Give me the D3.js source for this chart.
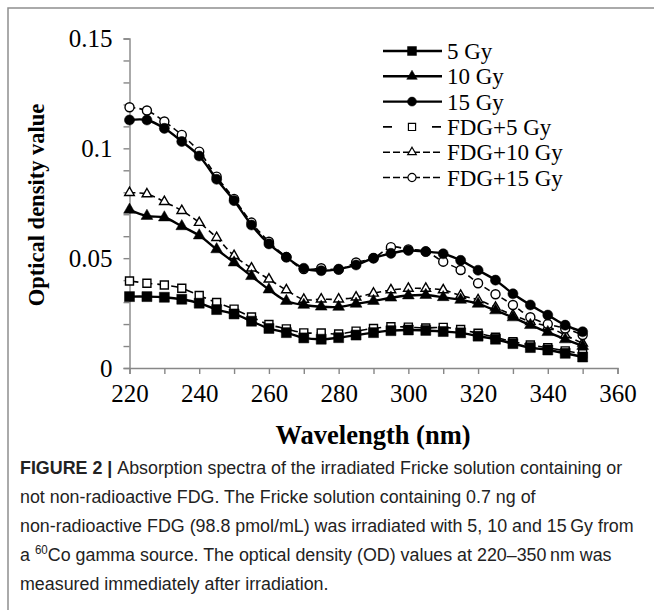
<!DOCTYPE html>
<head>
  <meta charset="utf-8">
  <script src="https://d3js.org/d3.v7.min.js"></script>
  <style>
    body { margin:0; background:#fff; }
    svg { display:block; }
  </style>
</head>
<body>
<script>
  // wavelengths (nm)
  var wavelengths = [220,225,230,235,240,245,250,255,260,265,270,275,280,285,290,295,300,305,310,315,320,325,330,335,340,345,350];

  // optical density
  var gy5    = [0.0325,0.0325,0.0322,0.0313,0.0295,0.0266,0.0246,0.0213,0.0180,0.0161,0.0137,0.0131,0.0138,0.0150,0.0161,0.0170,0.0173,0.0171,0.0166,0.0160,0.0145,0.0131,0.0111,0.0093,0.0082,0.0067,0.0050];
  var gy10   = [0.0720,0.0692,0.0685,0.0645,0.0603,0.0540,0.0480,0.0418,0.0357,0.0305,0.0287,0.0279,0.0278,0.0292,0.0305,0.0320,0.0330,0.0332,0.0322,0.0310,0.0292,0.0262,0.0230,0.0195,0.0163,0.0130,0.0100];
  var gy15   = [0.1129,0.1129,0.1091,0.1031,0.0965,0.0859,0.0762,0.0651,0.0565,0.0504,0.0454,0.0443,0.0450,0.0469,0.0500,0.0522,0.0535,0.0530,0.0520,0.0490,0.0445,0.0400,0.0338,0.0287,0.0241,0.0195,0.0165];
  var fdg5   = [0.0396,0.0386,0.0378,0.0363,0.0330,0.0298,0.0268,0.0232,0.0198,0.0178,0.0160,0.0159,0.0155,0.0168,0.0180,0.0188,0.0186,0.0182,0.0185,0.0175,0.0158,0.0140,0.0120,0.0105,0.0092,0.0078,0.0065];
  var fdg10  = [0.0798,0.0792,0.0757,0.0716,0.0662,0.0593,0.0511,0.0454,0.0404,0.0355,0.0312,0.0313,0.0313,0.0322,0.0340,0.0355,0.0362,0.0362,0.0355,0.0330,0.0310,0.0276,0.0241,0.0211,0.0188,0.0150,0.0112];
  var fdg15  = [0.1187,0.1172,0.1122,0.1061,0.0985,0.0871,0.0770,0.0662,0.0575,0.0505,0.0450,0.0454,0.0448,0.0480,0.0500,0.0550,0.0540,0.0530,0.0484,0.0446,0.0386,0.0336,0.0287,0.0231,0.0200,0.0180,0.0150];

  var seriesNames = ["5 Gy","10 Gy","15 Gy","FDG+5 Gy","FDG+10 Gy","FDG+15 Gy"];
  var xTickLabels = [220,240,260,280,300,320,340,360];
  var yTickLabels = [0,0.05,0.1,0.15];

  var captionLines = [
    "Absorption spectra of the irradiated Fricke solution containing or",
    "not non-radioactive FDG. The Fricke solution containing 0.7 ng of",
    "non-radioactive FDG (98.8 pmol/mL) was irradiated with 5, 10 and 15\u2009Gy from",
    "Co gamma source. The optical density (OD) values at 220\u2013350\u2009nm was",
    "measured immediately after irradiation."
  ];

  var values = [gy5, gy10, gy15, fdg5, fdg10, fdg15];
  var styles = [
    {shape: d3.symbolSquare,   size: 100, open: false, dash: null,  legendDash: null},
    {shape: d3.symbolTriangle, size: 60,  open: false, dash: null,  legendDash: null},
    {shape: d3.symbolCircle,   size: 80,  open: false, dash: null,  legendDash: null},
    {shape: d3.symbolSquare,   size: 64,  open: true,  dash: "9,5", legendDash: "9,40"},
    {shape: d3.symbolTriangle, size: 40,  open: true,  dash: "6,4", legendDash: "7,3"},
    {shape: d3.symbolCircle,   size: 64,  open: true,  dash: "6,4", legendDash: "7,3"}
  ];

  var series = seriesNames.map(function(name, i) {
    return {name: name, style: styles[i],
      points: wavelengths.map(function(w, j) { return {w: w, v: values[i][j]}; })};
  });

  var svg = d3.select("body").append("svg").attr("width", 654).attr("height", 610);

  // grey frame (left and top)
  svg.append("path").attr("d", "M8,610V8H654")
    .attr("fill", "none").attr("stroke", "#8f8f8f").attr("stroke-width", 1.5);

  var x = d3.scaleLinear().domain([220, 360]).range([129.5, 617.5]);
  var y = d3.scaleLinear().domain([0, 0.15]).range([368, 38.5]);

  var serif = "'Liberation Serif', 'Times New Roman', serif";

  // axes
  var gx = svg.append("g").attr("transform", "translate(0,368)")
    .call(d3.axisBottom(x)
      .tickValues(d3.range(220, 361, 10))
      .tickFormat(function(d) { return xTickLabels.indexOf(d) >= 0 ? d : ""; })
      .tickSizeOuter(0).tickSize(6).tickPadding(10));

  var gy = svg.append("g").attr("transform", "translate(129.5,0)")
    .call(d3.axisLeft(y)
      .tickValues(d3.range(16).map(function(i) { return i / 100; }))
      .tickFormat(function(d) {
        var hit = yTickLabels.filter(function(t) { return Math.abs(t - d) < 1e-9; });
        return hit.length ? String(hit[0]) : "";
      })
      .tickSizeOuter(0).tickSize(6).tickPadding(11));

  [gx, gy].forEach(function(g) {
    g.select(".domain").attr("stroke", "#878787").attr("stroke-width", 1.4);
    g.selectAll(".tick line").attr("stroke", "#878787").attr("stroke-width", 1.4);
    g.selectAll(".tick text").attr("fill", "#000")
      .style("font-family", serif).style("font-size", "25px");
  });

  // axis titles
  svg.append("text").attr("x", 373).attr("y", 444).attr("text-anchor", "middle")
    .style("font-family", serif).style("font-size", "26.5px").style("font-weight", "bold")
    .text("Wavelength (nm)");

  svg.append("text").attr("transform", "translate(44,205) rotate(-90)").attr("text-anchor", "middle")
    .style("font-family", serif).style("font-size", "22.5px").style("font-weight", "bold")
    .text("Optical density value");

  // lines
  var line = d3.line()
    .x(function(d) { return x(d.w); })
    .y(function(d) { return y(d.v); })
    .curve(d3.curveCatmullRom.alpha(0.5));

  // dashed (FDG) series first, solid ones on top
  var drawOrder = [3, 4, 5, 0, 1, 2];

  drawOrder.forEach(function(i) {
    var s = series[i];
    var g = svg.append("g");
    g.append("path").datum(s.points)
      .attr("d", line)
      .attr("fill", "none").attr("stroke", "#000")
      .attr("stroke-width", s.style.open ? 1.6 : 2.4)
      .attr("stroke-dasharray", s.style.dash);
    g.selectAll("path.m").data(s.points).enter().append("path")
      .attr("class", "m")
      .attr("transform", function(d) { return "translate(" + x(d.w) + "," + y(d.v) + ")"; })
      .attr("d", d3.symbol().type(s.style.shape).size(s.style.size))
      .attr("fill", s.style.open ? "#fff" : "#000")
      .attr("stroke", "#000").attr("stroke-width", s.style.open ? 1.4 : 0.5);
  });

  // legend
  var legend = svg.append("g");
  series.forEach(function(s, i) {
    var ly = 51 + i * 25.3;
    legend.append("line").attr("x1", 383).attr("x2", 442).attr("y1", ly).attr("y2", ly)
      .attr("stroke", "#000").attr("stroke-width", s.style.open ? 1.6 : 2.4)
      .attr("stroke-dasharray", s.style.legendDash);
    legend.append("path")
      .attr("transform", "translate(412," + ly + ")")
      .attr("d", d3.symbol().type(s.style.shape).size(s.style.size * 0.8))
      .attr("fill", s.style.open ? "#fff" : "#000")
      .attr("stroke", "#000").attr("stroke-width", s.style.open ? 1.2 : 0.5);
    legend.append("text").attr("x", 447).attr("y", ly + 8)
      .style("font-family", serif).style("font-size", "23px")
      .text(s.name);
  });

  // caption: one common horizontal squeeze so the longest line spans 20..634
  var sans = "'Liberation Sans', Arial, sans-serif";
  var capY = [474, 503, 532, 561, 590];

  var capTexts = captionLines.map(function(t, i) {
    var txt = svg.append("text").attr("x", 0).attr("y", 0)
      .style("font-family", sans).style("font-size", "18.5px").attr("fill", "#222");
    if (i === 0) {
      txt.append("tspan").style("font-weight", "bold").text("FIGURE 2 | ");
    }
    if (i === 3) {
      txt.append("tspan").text("a ");
      txt.append("tspan").attr("dy", -7).style("font-size", "12px").text("60");
      txt.append("tspan").attr("dy", 7).text(t);
    } else {
      txt.append("tspan").text(t);
    }
    return txt;
  });

  var natural = capTexts.map(function(t) { return t.node().getComputedTextLength(); });
  var squeeze = Math.min(1, 614 / d3.max(natural));
  capTexts.forEach(function(t, i) {
    t.attr("transform", "translate(20," + capY[i] + ") scale(" + squeeze + ",1)");
  });
</script>
</body>
